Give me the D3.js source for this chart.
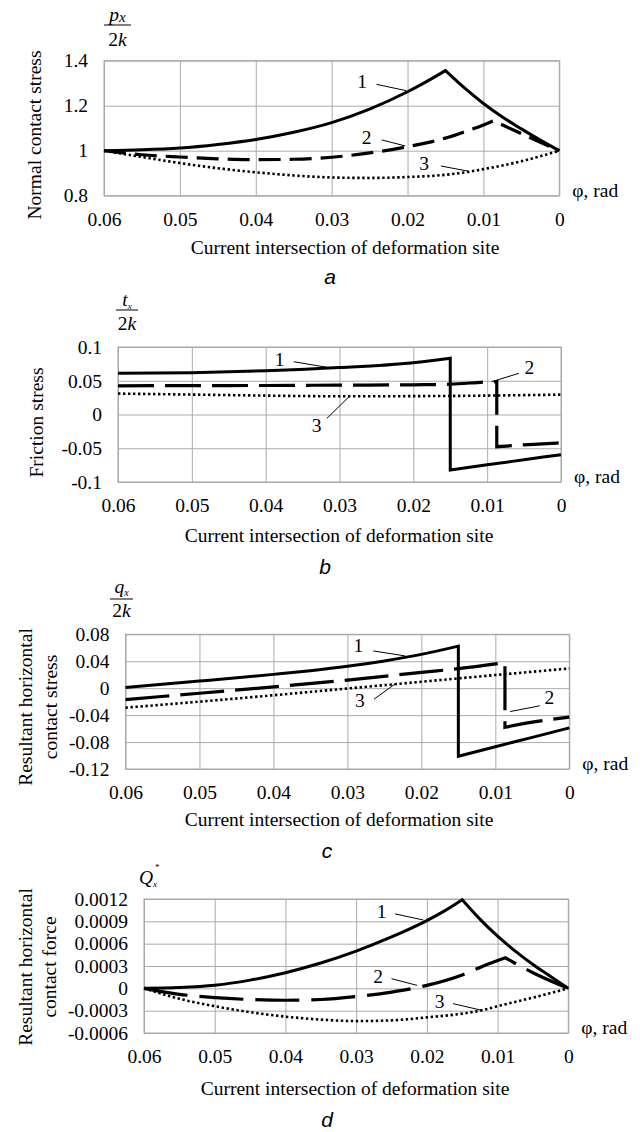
<!DOCTYPE html>
<html>
<head>
<meta charset="utf-8">
<script src="https://cdn.jsdelivr.net/npm/d3@7"></script>
<style>
  body { margin: 0; background: #fff; }
  svg { display: block; }
</style>
</head>
<body>
<script>
// x axis (shared by all four panels)
var phiTicks = [0.06, 0.05, 0.04, 0.03, 0.02, 0.01, 0];
var phiLabels = ['0.06', '0.05', '0.04', '0.03', '0.02', '0.01', '0'];

// a - normal contact stress
var aTicks = [1.4, 1.2, 1.0, 0.8];
var aLabels = ['1.4', '1.2', '1', '0.8'];
var a1 = [
  [[0.06, 1.0], [0.055, 1.004], [0.05, 1.012], [0.045, 1.028], [0.04, 1.05], [0.035, 1.082], [0.03, 1.125], [0.025, 1.185], [0.02, 1.262], [0.0175, 1.307], [0.015, 1.356]],
  [[0.015, 1.356], [0.0125, 1.279], [0.01, 1.21], [0.0075, 1.15], [0.005, 1.097], [0.0025, 1.047], [0, 1.0]]
];
var a2 = [
  [[0.06, 1.0], [0.055, 0.982], [0.05, 0.972], [0.045, 0.964], [0.04, 0.96], [0.035, 0.962], [0.03, 0.971], [0.025, 0.99], [0.02, 1.018], [0.015, 1.056], [0.0125, 1.084], [0.01, 1.114], [0.0087, 1.133]],
  [[0.0087, 1.133], [0.005, 1.076], [0.0025, 1.037], [0, 1.0]]
];
var a3 = [
  [[0.06, 1.0], [0.055, 0.972], [0.05, 0.945], [0.045, 0.922], [0.04, 0.904], [0.035, 0.89], [0.03, 0.881], [0.025, 0.879], [0.02, 0.883], [0.015, 0.893], [0.012, 0.906], [0.01, 0.918], [0.005, 0.953], [0, 1.0]]
];
var aNotes = [
  { t: '1', at: [0.026, 1.307], from: [0.0241, 1.295], to: [0.0202, 1.267] },
  { t: '2', at: [0.0254, 1.06], from: [0.0234, 1.048], to: [0.0203, 1.021] },
  { t: '3', at: [0.0178, 0.944], from: [0.0156, 0.932], to: [0.012, 0.909] }
];

// b - friction stress
var bTicks = [0.1, 0.05, 0, -0.05, -0.1];
var bLabels = ['0.1', '0.05', '0', '-0.05', '-0.1'];
var b1 = [
  [[0.06, 0.061], [0.05, 0.062], [0.04, 0.0648], [0.03, 0.0695], [0.02, 0.0768], [0.015, 0.0833]],
  [[0.015, -0.0822], [0.01, -0.0745], [0.005, -0.067], [0, -0.0595]]
];
var b2 = [
  [[0.06, 0.0425], [0.05, 0.0428], [0.04, 0.043], [0.03, 0.0435], [0.02, 0.044], [0.015, 0.0448], [0.0094, 0.0486], [0.0087, 0.0487]],
  [[0.0087, -0.0477], [0.005, -0.045], [0, -0.042]]
];
var b3 = [
  [[0.06, 0.031], [0.05, 0.0295], [0.04, 0.028], [0.03, 0.027], [0.02, 0.0272], [0.01, 0.028], [0, 0.0295]]
];
var bNotes = [
  { t: '1', at: [0.0381, 0.0818], from: [0.0362, 0.0782], to: [0.0317, 0.0699] },
  { t: '2', at: [0.0043, 0.0708], from: [0.0057, 0.061], to: [0.0094, 0.0486] },
  { t: '3', at: [0.0331, -0.0156], from: [0.0317, -0.0056], to: [0.0287, 0.0264] }
];

// c - resultant horizontal contact stress
var cTicks = [0.08, 0.04, 0, -0.04, -0.08, -0.12];
var cLabels = ['0.08', '0.04', '0', '-0.04', '-0.08', '-0.12'];
var c1 = [
  [[0.06, 0.001], [0.05, 0.0105], [0.04, 0.0205], [0.035, 0.026], [0.03, 0.0325], [0.025, 0.0405], [0.02, 0.0502], [0.015, 0.0625]],
  [[0.015, -0.101], [0.01, -0.087], [0.005, -0.073], [0, -0.059]]
];
var c2 = [
  [[0.06, -0.017], [0.05, -0.0075], [0.04, 0.002], [0.03, 0.012], [0.02, 0.0235], [0.015, 0.029], [0.0087, 0.038]],
  [[0.0087, -0.058], [0.005, -0.0505], [0, -0.043]]
];
var c3 = [
  [[0.06, -0.029], [0.05, -0.02], [0.04, -0.0105], [0.03, -0.0005], [0.02, 0.0095], [0.01, 0.0195], [0, 0.0292]]
];
var cNotes = [
  { t: '1', at: [0.0285, 0.0641], from: [0.0265, 0.0553], to: [0.0222, 0.0479] },
  { t: '3', at: [0.0283, -0.0173], from: [0.0264, -0.0163], to: [0.0234, 0.0074] },
  { t: '2', at: [0.0027, -0.0133], from: [0.004, -0.0262], to: [0.008, -0.0347] }
];

// d - resultant horizontal contact force
var dTicks = [0.0012, 0.0009, 0.0006, 0.0003, 0, -0.0003, -0.0006];
var dLabels = ['0.0012', '0.0009', '0.0006', '0.0003', '0', '-0.0003', '-0.0006'];
var d1 = [
  [[0.06, 0], [0.055, 0.00001], [0.05, 0.00004], [0.045, 0.00011], [0.04, 0.00021], [0.035, 0.00034], [0.03, 0.0005], [0.025, 0.00069], [0.02, 0.00091], [0.0175, 0.00104], [0.015, 0.00119]],
  [[0.015, 0.00119], [0.0125, 0.00093], [0.01, 0.0007], [0.0075, 0.0005], [0.005, 0.00032], [0.0025, 0.00016], [0, 0]]
];
var d2 = [
  [[0.06, 0], [0.055, -0.00008], [0.05, -0.000125], [0.045, -0.00015], [0.04, -0.00016], [0.035, -0.00015], [0.03, -0.00011], [0.025, -0.00005], [0.02, 0.00004], [0.015, 0.00018], [0.012, 0.0003], [0.0089, 0.00041]],
  [[0.0089, 0.00041], [0.005, 0.00021], [0, 0]]
];
var d3s = [
  [[0.06, 0], [0.055, -0.00014], [0.05, -0.00024], [0.045, -0.00032], [0.04, -0.00038], [0.035, -0.00042], [0.03, -0.00044], [0.025, -0.00043], [0.02, -0.00039], [0.015, -0.00034], [0.012, -0.00029], [0.01, -0.00024], [0.005, -0.000125], [0, 0]]
];
var dNotes = [
  { t: '1', at: [0.0264, 0.00104], from: [0.0245, 0.001], to: [0.0205, 0.000918] },
  { t: '2', at: [0.0269, 0.000165], from: [0.025, 0.00013], to: [0.0214, 0.00004] },
  { t: '3', at: [0.0182, -0.00017], from: [0.0163, -0.000206], to: [0.0122, -0.000296] }
];

var SERIF = '"Liberation Serif", "Times New Roman", serif';
var SANS = '"Liberation Sans", Arial, sans-serif';
var FS = 19.5;

var svg = d3.select('body').append('svg')
  .attr('width', 640).attr('height', 1132)
  .style('background', '#fff');

var panels = [
  { box: [104, 559.3, 60.7, 195.7], ticks: aTicks, labels: aLabels, series: [a1, a2, a3], dash: '22,9', notes: aNotes,
    ytitle: ['Normal contact stress'], tx: [34.5], ty: 135, title: [345, 253.5], letter: ['a', 330, 284],
    frac: { num: 'p', sub: 'x', subSize: 15, x: 117.5, line: [104, 131, 25], numY: 21, denY: 45.5 } },
  { box: [118, 561, 347, 482], ticks: bTicks, labels: bLabels, series: [b1, b2, b3], dash: '36,11', notes: bNotes,
    ytitle: ['Friction stress'], tx: [36], ty: 422.5, title: [339, 542], letter: ['b', 325, 574],
    frac: { num: 't', sub: 'x', subSize: 9, x: 127, line: [116, 138, 310], numY: 306, denY: 330 } },
  { box: [125.5, 569.3, 634.3, 769], ticks: cTicks, labels: cLabels, series: [c1, c2, c3], dash: '44,11', notes: cNotes,
    ytitle: ['Resultant horizontal', 'contact stress'], tx: [25.5, 50.5], ty: 707, title: [339, 826], letter: ['c', 327, 858],
    frac: { num: 'q', sub: 'x', subSize: 10, x: 121.5, line: [110, 133, 599], numY: 593, denY: 617 } },
  { box: [144, 568.3, 899, 1033], ticks: dTicks, labels: dLabels, series: [d1, d2, d3s], dash: '44,12', notes: dNotes,
    ytitle: ['Resultant horizontal', 'contact force'], tx: [25, 49.5], ty: 967, title: [355, 1095], letter: ['d', 327, 1127],
    q: true }
];

panels.forEach(function (p) {
  var left = p.box[0], right = p.box[1], top = p.box[2], bottom = p.box[3];
  var x = d3.scaleLinear().domain([0.06, 0]).range([left, right]);
  var y = d3.scaleLinear().domain([p.ticks[0], p.ticks[p.ticks.length - 1]]).range([top, bottom]);
  var g = svg.append('g');

  // grid + tick labels
  var ya = g.append('g').attr('transform', 'translate(' + left + ',0)')
    .call(d3.axisLeft(y).tickValues(p.ticks).tickSize(-(right - left)).tickPadding(16)
      .tickFormat(function (d, i) { return p.labels[i]; }));
  var xa = g.append('g').attr('transform', 'translate(0,' + bottom + ')')
    .call(d3.axisBottom(x).tickValues(phiTicks).tickSize(-(bottom - top)).tickPadding(16)
      .tickFormat(function (d, i) { return phiLabels[i]; }));
  [ya, xa].forEach(function (a) {
    a.select('.domain').remove();
    a.selectAll('line').attr('stroke', '#ababab');
    a.selectAll('text').attr('fill', '#000').style('font-family', SERIF).style('font-size', FS + 'px');
  });
  g.append('rect').attr('x', left).attr('y', top).attr('width', right - left).attr('height', bottom - top)
    .attr('fill', 'none').attr('stroke', '#a6a6a6');

  // curves
  var line = d3.line().x(function (d) { return x(d[0]); }).y(function (d) { return y(d[1]); })
    .curve(d3.curveMonotoneX);
  var styles = [
    { w: 3, dash: null },
    { w: 3.2, dash: p.dash },
    { w: 2.6, dash: '2.4,2.6' }
  ];
  p.series.forEach(function (segs, k) {
    var dstr = segs.map(function (s, i) {
      var str = line(s);
      return i ? str.replace(/^M/, 'L') : str;
    }).join('');
    g.append('path').attr('d', dstr).attr('fill', 'none').attr('stroke', '#000')
      .attr('stroke-width', styles[k].w).attr('stroke-linejoin', 'miter')
      .attr('stroke-dasharray', styles[k].dash);
  });

  // curve numbers with leaders
  p.notes.forEach(function (n) {
    g.append('line').attr('x1', x(n.from[0])).attr('y1', y(n.from[1]))
      .attr('x2', x(n.to[0])).attr('y2', y(n.to[1])).attr('stroke', '#000').attr('stroke-width', 1);
    g.append('text').attr('x', x(n.at[0])).attr('y', y(n.at[1])).attr('dy', '0.35em')
      .attr('text-anchor', 'middle').style('font-family', SERIF).style('font-size', FS + 'px').text(n.t);
  });

  // phi, rad
  g.append('text').attr('x', right + 13).attr('y', bottom + 1)
    .style('font-family', SERIF).style('font-size', FS + 'px').text('φ, rad');

  // y axis title
  p.ytitle.forEach(function (t, i) {
    g.append('text').attr('transform', 'translate(' + p.tx[i] + ',' + p.ty + ') rotate(-90)')
      .attr('dy', '0.35em').attr('text-anchor', 'middle')
      .style('font-family', SERIF).style('font-size', FS + 'px').text(t);
  });

  // x axis title and panel letter
  g.append('text').attr('x', p.title[0]).attr('y', p.title[1]).attr('text-anchor', 'middle')
    .style('font-family', SERIF).style('font-size', FS + 'px').text('Current intersection of deformation site');
  g.append('text').attr('x', p.letter[1]).attr('y', p.letter[2]).attr('text-anchor', 'middle')
    .style('font-family', SANS).style('font-style', 'italic').style('font-size', '21px').text(p.letter[0]);

  // quantity label above the y axis
  if (p.frac) {
    var f = p.frac;
    var num = g.append('text').attr('x', f.x).attr('y', f.numY).attr('text-anchor', 'middle')
      .style('font-family', SERIF).style('font-size', FS + 'px').style('font-style', 'italic');
    num.append('tspan').text(f.num);
    num.append('tspan').attr('dy', f.subSize > 12 ? 1 : 3).style('font-size', f.subSize + 'px').text(f.sub);
    g.append('line').attr('x1', f.line[0]).attr('x2', f.line[1]).attr('y1', f.line[2]).attr('y2', f.line[2])
      .attr('stroke', '#000').attr('stroke-width', 1);
    var den = g.append('text').attr('x', f.x).attr('y', f.denY).attr('text-anchor', 'middle')
      .style('font-family', SERIF).style('font-size', FS + 'px');
    den.append('tspan').text('2');
    den.append('tspan').style('font-style', 'italic').text('k');
  }
  if (p.q) {
    var qt = g.append('text').attr('x', 139).attr('y', 884).style('font-family', SERIF)
      .style('font-size', FS + 'px').style('font-style', 'italic');
    qt.append('tspan').text('Q');
    qt.append('tspan').attr('dy', 3).style('font-size', '9px').text('x');
    g.append('text').attr('x', 155).attr('y', 870).style('font-family', SERIF)
      .style('font-size', '9px').text('*');
  }
});
</script>
</body>
</html>
